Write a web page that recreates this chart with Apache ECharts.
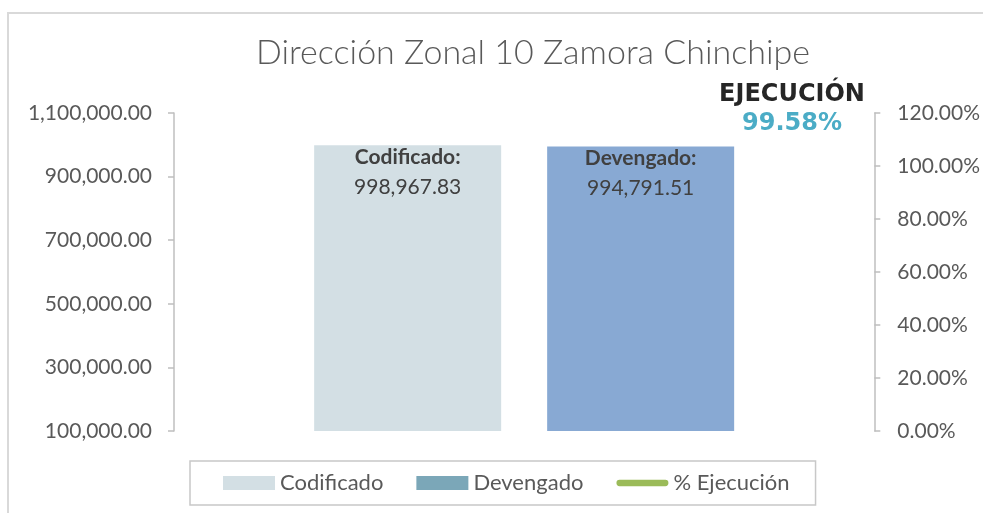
<!DOCTYPE html>
<html>
<head>
<meta charset="utf-8">
<style>
  html, body { margin: 0; padding: 0; background: #fff; }
  #main { width: 983px; height: 513px; }
</style>
<script src="https://cdn.jsdelivr.net/npm/echarts@6/dist/echarts.min.js"></script>
</head>
<body>
<div id="main"></div>
<script>
// datos del gráfico
var titulo = 'Dirección Zonal 10 Zamora Chinchipe';
var categorias = ['Dirección Zonal 10 Zamora Chinchipe'];
var codificado = [998967.83];
var devengado = [994791.51];
var ejecucion = [99.58];   // % ejecución (eje derecho)

var fontFam = 'Lato, "Open Sans", sans-serif';
var gris = '#595959';

function fmtNum(v) {
    return Number(v).toLocaleString('en-US', {minimumFractionDigits: 2, maximumFractionDigits: 2});
}

var chart = echarts.init(document.getElementById('main'));

var option = {
    backgroundColor: '#fff',
    animation: false,
    textStyle: { fontFamily: fontFam },
    title: [
        {
            text: titulo,
            left: 528, top: 31, textAlign: 'center',
            textStyle: { fontFamily: fontFam, fontSize: 34, fontWeight: 300, color: gris }
        },
        {
            text: 'EJECUCIÓN',
            subtext: ejecucion[0].toFixed(2) + '%',
            left: 787, top: 78, textAlign: 'center', itemGap: 5,
            textStyle: { fontFamily: '"DejaVu Sans", sans-serif', fontSize: 24, fontWeight: 'bold', color: '#262626' },
            subtextStyle: { fontFamily: '"DejaVu Sans", sans-serif', fontSize: 24, fontWeight: 'bold', color: '#4BACC6' }
        }
    ],
    graphic: [{
        type: 'rect',
        shape: { x: 8, y: 13, width: 990, height: 520 },
        style: { fill: 'none', stroke: '#D9D9D9', lineWidth: 2 },
        silent: true
    }],
    legend: {
        left: 190, top: 461,
        padding: [11, 26, 11, 33],
        borderColor: '#C8C8C8', borderWidth: 1.5,
        itemWidth: 52, itemHeight: 14, itemGap: 33,
        textStyle: { fontFamily: fontFam, fontSize: 22, color: gris },
        data: [
            { name: 'Codificado', icon: 'rect' },
            { name: 'Devengado', icon: 'rect', itemStyle: { color: '#7BA7B8' } },
            { name: '% Ejecución', icon: 'path://M3.5,0 h51 a3.5,3.5 0 0 1 0,7 h-51 a3.5,3.5 0 0 1 0,-7 z', itemStyle: { color: '#9BBB59' } }
        ]
    },
    grid: { left: 174, right: 108, top: 113, bottom: 82 },
    xAxis: {
        type: 'category',
        data: categorias,
        axisLine: { show: false },
        axisTick: { show: false },
        axisLabel: { show: false }
    },
    yAxis: [
        {
            type: 'value', min: 100000, max: 1100000, interval: 200000,
            axisLine: { show: true, lineStyle: { color: '#BFBFBF', width: 1.5 } },
            axisTick: { show: true, length: 6, lineStyle: { color: '#BFBFBF', width: 1.5 } },
            splitLine: { show: false },
            axisLabel: { margin: 22, fontFamily: fontFam, fontSize: 21, color: gris, formatter: fmtNum }
        },
        {
            type: 'value', min: 0, max: 120, interval: 20,
            axisLine: { show: true, lineStyle: { color: '#BFBFBF', width: 1.5 } },
            axisTick: { show: true, length: 6, lineStyle: { color: '#BFBFBF', width: 1.5 } },
            splitLine: { show: false },
            axisLabel: { margin: 23, fontFamily: fontFam, fontSize: 21, color: gris,
                formatter: function (v) { return v.toFixed(2) + '%'; } }
        }
    ],
    series: [
        {
            name: 'Codificado', type: 'bar',
            data: codificado, barWidth: 187, barGap: '24.6%',
            itemStyle: { color: '#D3DFE4' },
            label: {
                show: true, position: 'insideTop', distance: -3,
                formatter: function (p) { return '{a|Codificado:}\n{b|' + fmtNum(p.value) + '}'; },
                rich: {
                    a: { fontFamily: fontFam, fontSize: 21, fontWeight: 'bold', color: '#404040', lineHeight: 30 },
                    b: { fontFamily: fontFam, fontSize: 21, color: '#404040', lineHeight: 30 }
                }
            }
        },
        {
            name: 'Devengado', type: 'bar',
            data: devengado, barWidth: 187,
            itemStyle: { color: '#88A9D3' },
            label: {
                show: true, position: 'insideTop', distance: -3,
                formatter: function (p) { return '{a|Devengado:}\n{b|' + fmtNum(p.value) + '}'; },
                rich: {
                    a: { fontFamily: fontFam, fontSize: 21, fontWeight: 'bold', color: '#404040', lineHeight: 30 },
                    b: { fontFamily: fontFam, fontSize: 21, color: '#404040', lineHeight: 30 }
                }
            }
        },
        {
            name: '% Ejecución', type: 'line', yAxisIndex: 1,
            data: ejecucion, showSymbol: false, symbol: 'none',
            lineStyle: { color: '#9BBB59', width: 4 },
            itemStyle: { color: '#9BBB59' }
        }
    ]
};

chart.setOption(option);
</script>
</body>
</html>
